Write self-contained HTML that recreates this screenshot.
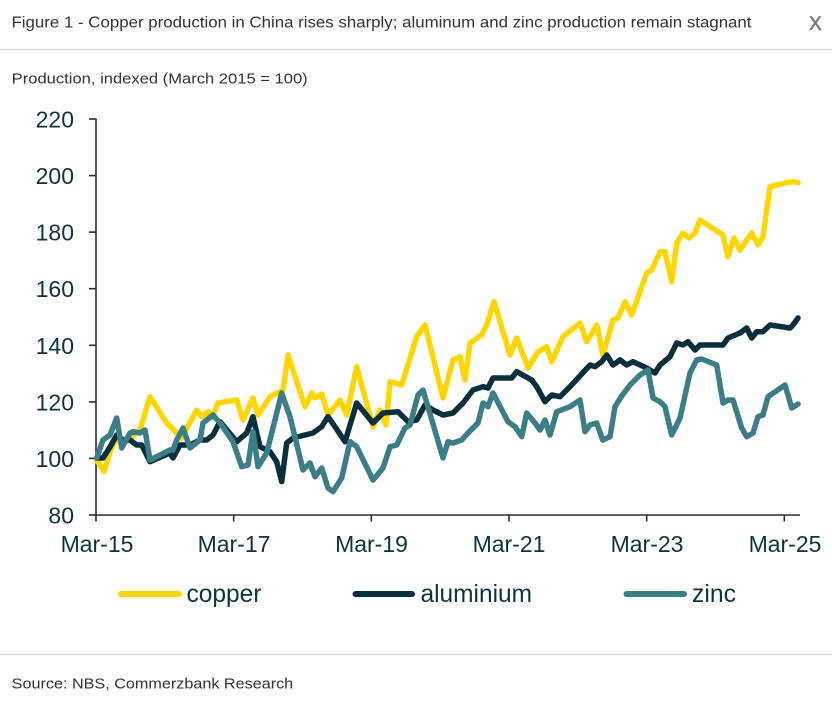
<!DOCTYPE html>
<html>
<head>
<meta charset="utf-8">
<style>
html,body{margin:0;padding:0;background:#fff;}
body{width:832px;height:706px;overflow:hidden;}
svg{display:block;}
</style>
</head>
<body>
<svg width="832" height="706" viewBox="0 0 832 706" xmlns="http://www.w3.org/2000/svg" font-family="'Liberation Sans', Arial, sans-serif">
  <rect x="0" y="0" width="832" height="706" fill="#fff"/>
  <!-- header -->
  <text x="11.5" y="27.3" font-size="15.5" fill="#333" textLength="740" lengthAdjust="spacingAndGlyphs">Figure 1 - Copper production in China rises sharply; aluminum and zinc production remain stagnant</text>
  <text x="809" y="30" font-size="19" fill="#7a7a7a" stroke="#7a7a7a" stroke-width="0.6">X</text>
  <line x1="0" y1="49.5" x2="832" y2="49.5" stroke="#dedede" stroke-width="1.5"/>
  <text x="11.7" y="83.3" font-size="15" fill="#333" textLength="296" lengthAdjust="spacingAndGlyphs">Production, indexed (March 2015 = 100)</text>

  <!-- axes -->
  <g stroke="#2b2b2b" stroke-width="1.6" fill="none">
    <line x1="96" y1="118.5" x2="96" y2="515"/>
    <line x1="96" y1="515" x2="800" y2="515"/>
    <line x1="89" y1="119" x2="96" y2="119"/>
    <line x1="89" y1="175.6" x2="96" y2="175.6"/>
    <line x1="89" y1="232.1" x2="96" y2="232.1"/>
    <line x1="89" y1="288.7" x2="96" y2="288.7"/>
    <line x1="89" y1="345.3" x2="96" y2="345.3"/>
    <line x1="89" y1="401.9" x2="96" y2="401.9"/>
    <line x1="89" y1="458.4" x2="96" y2="458.4"/>
    <line x1="89" y1="515" x2="96" y2="515"/>
    <line x1="96" y1="515" x2="96" y2="521.5"/>
    <line x1="233.7" y1="515" x2="233.7" y2="521.5"/>
    <line x1="371.3" y1="515" x2="371.3" y2="521.5"/>
    <line x1="509" y1="515" x2="509" y2="521.5"/>
    <line x1="646.7" y1="515" x2="646.7" y2="521.5"/>
    <line x1="784.3" y1="515" x2="784.3" y2="521.5"/>
  </g>
  <g font-size="23" fill="#0d3340" text-anchor="end">
    <text x="74" y="127.5">220</text>
    <text x="74" y="184.1">200</text>
    <text x="74" y="240.6">180</text>
    <text x="74" y="297.2">160</text>
    <text x="74" y="353.8">140</text>
    <text x="74" y="410.4">120</text>
    <text x="74" y="466.9">100</text>
    <text x="74" y="523.5">80</text>
  </g>
  <g font-size="23" fill="#0d3340" text-anchor="middle">
    <text x="97" y="552">Mar-15</text>
    <text x="234" y="552">Mar-17</text>
    <text x="371.5" y="552">Mar-19</text>
    <text x="509" y="552">Mar-21</text>
    <text x="647" y="552">Mar-23</text>
    <text x="785" y="552">Mar-25</text>
  </g>

  <!-- series -->
  <g fill="none" stroke-width="5.5" stroke-linejoin="round" stroke-linecap="round">
    <polyline stroke="#FFD600" points="96.7,460 104,471.7 110,452 116.7,438 123,444 130,438 140,430 150,396.7 166.7,423 176.7,433 181.7,438 196.7,410 201.7,416.7 208,411.7 211.7,418 218,403 236.7,400 243,420 253,398 258,415 270,396.7 283,390 288,355 305,406.7 311.7,393 315,398 321.7,394 328,415 340,400 346.7,415 356.7,366.7 373,426.7 380,410 386,425 390,381.7 401.7,385 416.7,336.7 425,325 443,398 453,360 460,356.7 465,380 470,343 481.7,335 486.7,325 494,301.7 510,355 516.7,338 528,368 538,351.7 546.7,346.7 551.7,361.7 563,336.7 580,323 586.7,341.7 596.7,325 603,355 613,320 618,318 625,301.7 631.7,315 646.7,273 651.7,270 660,251.7 665,251.7 671.7,281.7 676.7,243 683,233 689,238 695,233 700,220 718,231.7 723,235 728,256.7 734,238 740,250 751.7,233 758,245 763,236.7 770,186.7 785,183 793,181.7 798,182.7"/>
    <polyline stroke="#0A2F3C" points="96.7,458 103,458 110,447 116.7,435 123,440 130,440 136.7,445 141.7,445 150,461.7 170,453 173,458 180,445 190,445 200,440 206.7,440 213,435 220,421.7 236.7,441.7 246.7,433 253,416.7 260,446.7 270,451.7 276.7,461.7 281.7,481.7 286.7,443 293,438 305,435 313,433 321.7,426.7 328,416.7 335,426.7 345,441.7 356.7,403 373,423 383,413 398,411.7 408,421.7 416.7,420 425,405 433,410 443,415 453,413 463,403 473,390 483,386.7 488,388 493,378 511.7,378 516.7,371.7 531.7,380 536.7,386.7 545,401.7 551.7,395 560,396.7 570,386.7 590,365 595,366.7 601.7,361.7 606.7,355 613,365 620,360 626.7,365 633,361.7 646.7,368 655,373 660,365 670,356.7 676.7,343 683,345 688,341.7 695,350 700,345 723,345 728,338 740,333 746.7,328 751.7,338 756.7,331.7 763,331.7 770,325 790,328 793,325 798,318"/>
    <polyline stroke="#3C7D87" points="96.7,458 103,440 110,435 116.7,418 121.7,448 130,433 133,431.7 140,433 145,430 150,460 170,450 173,450 176.7,440 183,428 190,448 200,440 203,423 213,415 220,423 233,441.7 241.7,466.7 248,465 253,431.7 258,466.7 266.7,453 281.7,393 290,416.7 303,470 310,463 315,476.7 321.7,468 328,488 333,491.7 341.7,478 350,441.7 356.7,446.7 373,480 383,468 390,446.7 396.7,445 405,428 410,425 418,395 423,390 443,458 448,441.7 453,443 461.7,440 468,433 478,423 483,403 488,406.7 493,393 508,421.7 515,426.7 521.7,436.7 526.7,413 535,423 540,430 545,420 550,435 556.7,411.7 570,406.7 580,400 585,431.7 590,425 596.7,423 602.7,440 610,436.7 615,406.7 621.7,396 630,385 640,375 648,370 653,398 660,401.7 665,406.7 671.7,435 680,418 690,373 696.7,360 701.7,359 716.7,365 723,403 728,400 733,400 741.7,428 746.7,436.7 753,433 758,416.7 763,415 768,396.7 785,385 791.7,408 798,404"/>
  </g>

  <!-- legend -->
  <g stroke-width="6" stroke-linecap="round">
    <line x1="121" y1="594" x2="179" y2="594" stroke="#FFD600"/>
    <line x1="355.5" y1="594" x2="412" y2="594" stroke="#0A2F3C"/>
    <line x1="626.5" y1="594" x2="684" y2="594" stroke="#3C7D87"/>
  </g>
  <g font-size="25" fill="#0d3340">
    <text x="186.5" y="602" textLength="75" lengthAdjust="spacingAndGlyphs">copper</text>
    <text x="420.5" y="602" textLength="111.5" lengthAdjust="spacingAndGlyphs">aluminium</text>
    <text x="692" y="602" textLength="44" lengthAdjust="spacingAndGlyphs">zinc</text>
  </g>

  <!-- footer -->
  <line x1="0" y1="654.5" x2="832" y2="654.5" stroke="#dedede" stroke-width="1.5"/>
  <text x="11.7" y="688.3" font-size="15" fill="#333" textLength="281.5" lengthAdjust="spacingAndGlyphs">Source: NBS, Commerzbank Research</text>
</svg>
</body>
</html>
